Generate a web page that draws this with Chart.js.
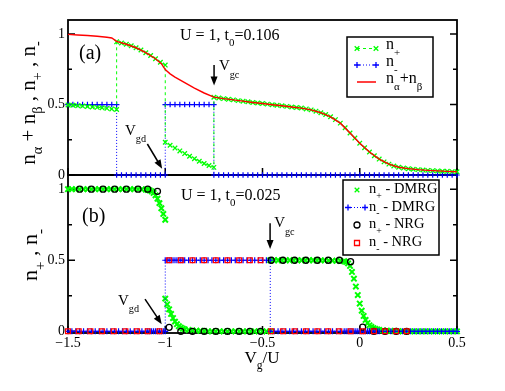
<!DOCTYPE html>
<html>
<head>
<meta charset="utf-8">
<title>Occupations vs gate voltage</title>
<script src="https://cdn.jsdelivr.net/npm/chart.js"></script>
<style>
  body { margin: 0; background: #fff; }
  #wrap { position: relative; width: 505px; height: 391px; }
  #wrap canvas { position: absolute; left: 0; top: 0; }
</style>
</head>
<body>
<div id="wrap">
  <canvas id="panelB" width="505" height="391"></canvas>
  <canvas id="panelA" width="505" height="391"></canvas>
</div>
<script>
// ---- panel (a): U = 1, t0 = 0.106 ----
// gate voltages (Vg/U); repeated values are the jumps
var aVg = [
  -1.5, -1.475, -1.45, -1.425, -1.4, -1.375, -1.35, -1.325, -1.3, -1.275, -1.25,
  -1.25, -1.225, -1.2, -1.175, -1.15, -1.125, -1.1, -1.075, -1.05, -1.025, -1.0,
  -1.0, -0.975, -0.95, -0.925, -0.9, -0.875, -0.85, -0.825, -0.8, -0.775, -0.75,
  -0.75, -0.725, -0.7, -0.675, -0.65, -0.625, -0.6, -0.575, -0.55, -0.525, -0.5,
  -0.475, -0.45, -0.425, -0.4, -0.375, -0.35, -0.325, -0.3, -0.275, -0.25,
  -0.225, -0.2, -0.175, -0.15, -0.125, -0.1, -0.075, -0.05, -0.025, 0,
  0.025, 0.05, 0.075, 0.1, 0.125, 0.15, 0.175, 0.2, 0.225, 0.25,
  0.275, 0.3, 0.325, 0.35, 0.375, 0.4, 0.425, 0.45, 0.475, 0.5
];
var aPlus = [
  0.497, 0.495, 0.492, 0.489, 0.486, 0.483, 0.48, 0.477, 0.473, 0.469, 0.465,
  0.945, 0.937, 0.928, 0.917, 0.903, 0.887, 0.868, 0.848, 0.825, 0.8, 0.78,
  0.232, 0.211, 0.191, 0.171, 0.152, 0.133, 0.115, 0.098, 0.082, 0.067, 0.054,
  0.552, 0.547, 0.542, 0.537, 0.533, 0.528, 0.524, 0.52, 0.515, 0.511, 0.507,
  0.503, 0.499, 0.495, 0.491, 0.487, 0.483, 0.479, 0.475, 0.469, 0.462,
  0.453, 0.442, 0.429, 0.413, 0.393, 0.368, 0.335, 0.298, 0.262, 0.226,
  0.193, 0.163, 0.137, 0.113, 0.093, 0.077, 0.064, 0.055, 0.049, 0.045,
  0.041, 0.038, 0.035, 0.033, 0.031, 0.029, 0.027, 0.026, 0.024, 0.023
];
var aMinus = [
  0.5, 0.5, 0.5, 0.5, 0.5, 0.5, 0.5, 0.5, 0.5, 0.5, 0.5,
  0, 0, 0, 0, 0, 0, 0, 0, 0, 0, 0,
  0.5, 0.5, 0.5, 0.5, 0.5, 0.5, 0.5, 0.5, 0.5, 0.5, 0.5,
  0, 0, 0, 0, 0, 0, 0, 0, 0, 0, 0,
  0, 0, 0, 0, 0, 0, 0, 0, 0, 0,
  0, 0, 0, 0, 0, 0, 0, 0, 0, 0,
  0, 0, 0, 0, 0, 0, 0, 0, 0, 0,
  0, 0, 0, 0, 0, 0, 0, 0, 0, 0
];
var aSumVg = [
  -1.5, -1.45, -1.4, -1.35, -1.3, -1.275, -1.25, -1.2, -1.15, -1.1, -1.05, -1.02,
  -1.0, -0.975, -0.95, -0.9, -0.85, -0.8, -0.75, -0.7, -0.65, -0.6, -0.55, -0.5,
  -0.45, -0.4, -0.35, -0.3, -0.25, -0.2, -0.15, -0.1, -0.05, 0, 0.05, 0.1,
  0.15, 0.2, 0.25, 0.3, 0.35, 0.4, 0.45, 0.5
];
var aSum = [
  0.998, 0.994, 0.99, 0.985, 0.978, 0.972, 0.948, 0.928, 0.903, 0.868, 0.825, 0.79,
  0.748, 0.718, 0.695, 0.655, 0.617, 0.582, 0.553, 0.542, 0.533, 0.524, 0.515, 0.507,
  0.499, 0.491, 0.483, 0.475, 0.462, 0.442, 0.413, 0.368, 0.298, 0.226, 0.163, 0.113,
  0.077, 0.055, 0.045, 0.038, 0.033, 0.029, 0.026, 0.023
];

// ---- panel (b): U = 1, t0 = 0.025 ----
var bVg = [
  -1.5, -1.48, -1.46, -1.44, -1.42, -1.4, -1.38, -1.36, -1.34, -1.32, -1.3,
  -1.28, -1.26, -1.24, -1.22, -1.2, -1.18, -1.16, -1.14, -1.12, -1.1,
  -1.09, -1.08, -1.07, -1.06, -1.05, -1.04, -1.03, -1.02, -1.01, -1.0,
  -1.0, -0.99, -0.98, -0.97, -0.96, -0.95, -0.94, -0.93, -0.92, -0.91, -0.9,
  -0.88, -0.86, -0.84, -0.82, -0.8,
  -0.78, -0.76, -0.74, -0.72, -0.7, -0.68, -0.66, -0.64, -0.62, -0.6, -0.58,
  -0.56, -0.54, -0.52, -0.5, -0.48, -0.46,
  -0.46, -0.44, -0.42, -0.4, -0.38, -0.36, -0.34, -0.32, -0.3, -0.28, -0.26,
  -0.24, -0.22, -0.2, -0.18, -0.16, -0.14, -0.12, -0.1, -0.08,
  -0.07, -0.06, -0.05, -0.04, -0.03, -0.02, -0.01, 0, 0.01, 0.02, 0.03,
  0.04, 0.05, 0.06, 0.07, 0.08, 0.09, 0.1,
  0.12, 0.14, 0.16, 0.18, 0.2, 0.22, 0.24, 0.26, 0.28, 0.3, 0.32,
  0.34, 0.36, 0.38, 0.4, 0.42, 0.44, 0.46, 0.48, 0.5
];
var bPlusDmrg = [
  1, 1, 1, 1, 1, 1, 1, 1, 1, 1, 1,
  1, 1, 1, 1, 1, 1, 1, 1, 0.999, 0.998,
  0.996, 0.992, 0.985, 0.974, 0.957, 0.933, 0.902, 0.866, 0.826, 0.785,
  0.23, 0.19, 0.155, 0.122, 0.093, 0.068, 0.05, 0.036, 0.026, 0.019, 0.014,
  0.009, 0.006, 0.004, 0.003, 0.002,
  0, 0, 0, 0, 0, 0, 0, 0, 0, 0, 0,
  0, 0, 0, 0, 0, 0,
  0.5, 0.5, 0.5, 0.5, 0.5, 0.5, 0.5, 0.5, 0.5, 0.5, 0.5,
  0.5, 0.5, 0.499, 0.499, 0.498, 0.497, 0.496, 0.495, 0.493,
  0.488, 0.478, 0.46, 0.418, 0.37, 0.315, 0.255, 0.195, 0.145, 0.108, 0.08,
  0.058, 0.042, 0.031, 0.023, 0.017, 0.013, 0.01,
  0.006, 0.004, 0.003, 0.002, 0.001, 0, 0, 0, 0, 0, 0,
  0, 0, 0, 0, 0, 0, 0, 0, 0
];
var bMinusDmrg = [
  0, 0, 0, 0, 0, 0, 0, 0, 0, 0, 0,
  0, 0, 0, 0, 0, 0, 0, 0, 0, 0,
  0, 0, 0, 0, 0, 0, 0, 0, 0, 0,
  0.5, 0.5, 0.5, 0.5, 0.5, 0.5, 0.5, 0.5, 0.5, 0.5, 0.5,
  0.5, 0.5, 0.5, 0.5, 0.5,
  0.5, 0.5, 0.5, 0.5, 0.5, 0.5, 0.5, 0.5, 0.5, 0.5, 0.5,
  0.5, 0.5, 0.5, 0.5, 0.5, 0.5,
  0, 0, 0, 0, 0, 0, 0, 0, 0, 0, 0,
  0, 0, 0, 0, 0, 0, 0, 0, 0,
  0, 0, 0, 0, 0, 0, 0, 0, 0, 0, 0,
  0, 0, 0, 0, 0, 0, 0,
  0, 0, 0, 0, 0, 0, 0, 0, 0, 0, 0,
  0, 0, 0, 0, 0, 0, 0, 0, 0
];
var nrgPlusVg = [
  -1.44, -1.38, -1.32, -1.26, -1.2, -1.14, -1.09, -1.04, -0.98, -0.92, -0.86,
  -0.8, -0.74, -0.68, -0.62, -0.565, -0.51, -0.455, -0.395, -0.335, -0.277,
  -0.218, -0.162, -0.105, -0.047, 0.015, 0.073, 0.13, 0.187, 0.241
];
var nrgPlus = [
  1, 1, 1, 1, 1, 1, 1, 0.985, 0.028, 0, 0,
  0, 0, 0, 0, 0, 0, 0.5, 0.5, 0.5, 0.5,
  0.5, 0.5, 0.5, 0.49, 0.03, 0, 0, 0, 0
];
var nrgMinusVg = [
  -1.5, -1.445, -1.385, -1.325, -1.265, -1.205, -1.145, -1.09, -1.03,
  -0.98, -0.92, -0.86, -0.8, -0.74, -0.68, -0.62, -0.565, -0.51,
  -0.455, -0.395, -0.335, -0.277, -0.218, -0.162, -0.105, -0.047, 0.015,
  0.073, 0.13, 0.187, 0.241
];
var nrgMinus = [
  0, 0, 0, 0, 0, 0, 0, 0, 0,
  0.5, 0.5, 0.5, 0.5, 0.5, 0.5, 0.5, 0.5, 0.5,
  0, 0, 0, 0, 0, 0, 0, 0, 0,
  0, 0, 0, 0
];

var xTicks = [-1.5, -1, -0.5, 0, 0.5];
var yTicks = [0, 0.5, 1];
var yMinorTicks = [0.25, 0.75];

var FONT = 'Liberation Serif';
var GREEN = '#00ff00', BLUE = '#0000ff', RED = '#ff0000';

function pairs(xs, ys) {
  return xs.map(function (x, i) { return { x: x, y: ys[i] }; });
}

function fmt(v) {
  return v < 0 ? '\u2212' + Math.abs(v) : String(v);
}

// text with subscripts: parts starting with '_' are lowered and smaller
function rich(ctx, parts, x, y, size, align, drop) {
  var sub = size * 0.68;
  drop = drop || 0.35;
  var w = 0;
  parts.forEach(function (p) {
    var s = p[0] === '_';
    ctx.font = (s ? sub : size) + 'px "' + FONT + '"';
    w += ctx.measureText(s ? p.slice(1) : p).width;
  });
  var cx = align === 'center' ? x - w / 2 : x;
  ctx.textAlign = 'left';
  ctx.textBaseline = 'alphabetic';
  ctx.fillStyle = '#000';
  parts.forEach(function (p) {
    var s = p[0] === '_';
    var t = s ? p.slice(1) : p;
    ctx.font = (s ? sub : size) + 'px "' + FONT + '"';
    ctx.fillText(t, cx, y + (s ? size * drop : 0));
    cx += ctx.measureText(t).width;
  });
}

function vtitle(ctx, parts, x, y, size) {
  ctx.save();
  ctx.translate(x, y);
  ctx.rotate(-Math.PI / 2);
  rich(ctx, parts, 0, 0, size, 'center');
  ctx.restore();
}

function arrow(ctx, x1, y1, x2, y2) {
  var a = Math.atan2(y2 - y1, x2 - x1), h = 9, w = 3.5;
  ctx.save();
  ctx.strokeStyle = '#000';
  ctx.fillStyle = '#000';
  ctx.lineWidth = 1.5;
  ctx.beginPath();
  ctx.moveTo(x1, y1);
  ctx.lineTo(x2 - h * 0.7 * Math.cos(a), y2 - h * 0.7 * Math.sin(a));
  ctx.stroke();
  ctx.beginPath();
  ctx.moveTo(x2, y2);
  ctx.lineTo(x2 - h * Math.cos(a) + w * Math.sin(a), y2 - h * Math.sin(a) - w * Math.cos(a));
  ctx.lineTo(x2 - h * Math.cos(a) - w * Math.sin(a), y2 - h * Math.sin(a) + w * Math.cos(a));
  ctx.closePath();
  ctx.fill();
  ctx.restore();
}

function mark(ctx, style, x, y, color) {
  ctx.save();
  ctx.strokeStyle = color;
  ctx.lineWidth = 1.3;
  ctx.beginPath();
  if (style === 'x') {
    ctx.moveTo(x - 2.3, y - 2.3); ctx.lineTo(x + 2.3, y + 2.3);
    ctx.moveTo(x - 2.3, y + 2.3); ctx.lineTo(x + 2.3, y - 2.3);
  } else if (style === '+') {
    ctx.moveTo(x - 3, y); ctx.lineTo(x + 3, y);
    ctx.moveTo(x, y - 3); ctx.lineTo(x, y + 3);
  } else if (style === 'o') {
    ctx.arc(x, y, 3, 0, Math.PI * 2);
  } else {
    ctx.rect(x - 2.5, y - 2.5, 5, 5);
  }
  ctx.stroke();
  ctx.restore();
}

function sample(ctx, x1, x2, y, color, dash) {
  ctx.save();
  ctx.strokeStyle = color;
  ctx.lineWidth = dash ? 1 : 1.5;
  ctx.setLineDash(dash || []);
  ctx.beginPath();
  ctx.moveTo(x1, y); ctx.lineTo(x2, y);
  ctx.stroke();
  ctx.restore();
}

// box, inward ticks
function frame(chart) {
  var ctx = chart.ctx, ca = chart.chartArea;
  var xs = chart.scales.x, ys = chart.scales.y;
  ctx.save();
  ctx.strokeStyle = '#000';
  ctx.lineWidth = 1.8;
  ctx.strokeRect(ca.left, ca.top, ca.right - ca.left, ca.bottom - ca.top);
  ctx.lineWidth = 1.5;
  ctx.beginPath();
  yTicks.concat(yMinorTicks).forEach(function (v) {
    var len = yTicks.indexOf(v) >= 0 ? 7 : 4;
    var p = ys.getPixelForValue(v);
    ctx.moveTo(ca.left, p); ctx.lineTo(ca.left + len, p);
    ctx.moveTo(ca.right, p); ctx.lineTo(ca.right - len, p);
  });
  xTicks.forEach(function (v) {
    var p = xs.getPixelForValue(v);
    ctx.moveTo(p, ca.bottom); ctx.lineTo(p, ca.bottom - 7);
  });
  ctx.stroke();
  ctx.restore();
}

function px(chart, x, y) {
  return [chart.scales.x.getPixelForValue(x), chart.scales.y.getPixelForValue(y)];
}

var decorA = {
  id: 'decorA',
  beforeDatasetsDraw: function (chart) { frame(chart); },
  afterDraw: function (chart) {
    var ctx = chart.ctx, p, q;
    vtitle(ctx, ['n', '_\u03b1', ' + n', '_\u03b2', ' , n', '_+', ' , n', '_-'], 35, 103, 21);
    p = px(chart, -1.443, 0.823); rich(ctx, ['(a)'], p[0], p[1], 20);
    p = px(chart, -0.924, 0.958); rich(ctx, ['U = 1, t', '_0', '=0.106'], p[0], p[1], 16);
    p = px(chart, -0.724, 0.745); rich(ctx, ['V', '_gc'], p[0], p[1], 15, 'left', 0.55);
    p = px(chart, -0.749, 0.78); q = px(chart, -0.749, 0.635); arrow(ctx, p[0], p[1], q[0], q[1]);
    p = px(chart, -1.207, 0.284); rich(ctx, ['V', '_gd'], p[0], p[1], 15, 'left', 0.45);
    p = px(chart, -1.092, 0.22); q = px(chart, -1.016, 0.045); arrow(ctx, p[0], p[1], q[0], q[1]);

    // legend
    ctx.save();
    ctx.fillStyle = '#fff';
    ctx.fillRect(347, 37, 86, 60);
    ctx.strokeStyle = '#000';
    ctx.lineWidth = 1.5;
    ctx.strokeRect(347, 37, 86, 60);
    ctx.restore();
    sample(ctx, 357, 376, 48.5, GREEN, [3, 3]);
    mark(ctx, 'x', 357, 48.5, GREEN); mark(ctx, 'x', 376, 48.5, GREEN);
    rich(ctx, ['n', '_+'], 386, 49, 16, 'left', 0.45);
    sample(ctx, 357, 376, 65, BLUE, [1, 2]);
    mark(ctx, '+', 357, 65, BLUE); mark(ctx, '+', 376, 65, BLUE);
    rich(ctx, ['n', '_-'], 386, 66, 16, 'left', 0.45);
    sample(ctx, 357, 376, 82, RED);
    rich(ctx, ['n', '_\u03b1', '+n', '_\u03b2'], 386, 83, 16, 'left', 0.45);
  }
};

var decorB = {
  id: 'decorB',
  beforeDatasetsDraw: function (chart) { frame(chart); },
  afterDraw: function (chart) {
    var ctx = chart.ctx, p, q;
    vtitle(ctx, ['n', '_+', ' , n', '_-'], 37, 255, 22);
    rich(ctx, ['V', '_g', '/U'], 262, 363, 17, 'center');
    p = px(chart, -1.428, 0.769); rich(ctx, ['(b)'], p[0], p[1], 20);
    p = px(chart, -0.919, 0.924); rich(ctx, ['U = 1, t', '_0', '=0.025'], p[0], p[1], 16);
    p = px(chart, -0.44, 0.734); rich(ctx, ['V', '_gc'], p[0], p[1], 15, 'left', 0.55);
    p = px(chart, -0.461, 0.76); q = px(chart, -0.461, 0.58); arrow(ctx, p[0], p[1], q[0], q[1]);
    p = px(chart, -1.243, 0.185); rich(ctx, ['V', '_gd'], p[0], p[1], 15, 'left', 0.45);
    p = px(chart, -1.104, 0.227); q = px(chart, -1.018, 0.05); arrow(ctx, p[0], p[1], q[0], q[1]);

    // legend
    ctx.save();
    ctx.fillStyle = '#fff';
    ctx.fillRect(343, 180, 96, 75);
    ctx.strokeStyle = '#000';
    ctx.lineWidth = 1.5;
    ctx.strokeRect(343, 180, 96, 75);
    ctx.restore();
    mark(ctx, 'x', 357, 190, GREEN);
    rich(ctx, ['n', '_+', ' - DMRG'], 369, 193, 14.5, 'left', 0.4);
    sample(ctx, 348, 365, 207.5, BLUE, [1, 2]);
    mark(ctx, '+', 348, 207.5, BLUE); mark(ctx, '+', 365, 207.5, BLUE);
    rich(ctx, ['n', '_-', ' - DMRG'], 369, 210.5, 14.5, 'left', 0.4);
    mark(ctx, 'o', 357, 225, '#000');
    rich(ctx, ['n', '_+', ' - NRG'], 369, 228, 14.5, 'left', 0.4);
    mark(ctx, 's', 357, 243, RED);
    rich(ctx, ['n', '_-', ' - NRG'], 369, 246, 14.5, 'left', 0.4);
  }
};

function scales(yMin, showX) {
  return {
    x: {
      type: 'linear', min: -1.5, max: 0.5, display: showX,
      grid: { display: false, drawTicks: false }, border: { display: false },
      afterBuildTicks: function (s) { s.ticks = xTicks.map(function (v) { return { value: v }; }); },
      afterFit: function (s) { s.height = showX ? 58 : 0; },
      ticks: { padding: 2, color: '#000', maxRotation: 0, autoSkip: false,
               font: { family: FONT, size: 14 }, callback: fmt }
    },
    y: {
      type: 'linear', min: yMin, max: 1.1,
      grid: { display: false, drawTicks: false }, border: { display: false },
      afterBuildTicks: function (s) { s.ticks = yTicks.map(function (v) { return { value: v }; }); },
      afterFit: function (s) { s.width = 68; },
      ticks: { padding: 3, color: '#000', font: { family: FONT, size: 14 }, callback: fmt }
    }
  };
}

function common(pad, yMin, showX) {
  return {
    responsive: false,
    devicePixelRatio: 1,
    animation: false,
    events: [],
    layout: { padding: pad },
    scales: scales(yMin, showX),
    plugins: { legend: { display: false }, tooltip: { enabled: false } }
  };
}

new Chart(document.getElementById('panelB'), {
  type: 'scatter',
  data: {
    datasets: [
      { label: 'n- NRG', data: pairs(nrgMinusVg, nrgMinus), order: 1, clip: false,
        pointStyle: 'rect', pointRadius: 3.4, pointBorderWidth: 1.3,
        pointBorderColor: RED, pointBackgroundColor: 'rgba(255,255,255,0)' },
      { label: 'n+ NRG', data: pairs(nrgPlusVg, nrgPlus), order: 2, clip: false,
        pointStyle: 'circle', pointRadius: 3, pointBorderWidth: 1.3,
        pointBorderColor: '#000', pointBackgroundColor: 'rgba(255,255,255,0)' },
      { label: 'n- DMRG', data: pairs(bVg, bMinusDmrg), order: 3, clip: false,
        showLine: true, borderColor: BLUE, borderWidth: 1, borderDash: [1, 2],
        pointStyle: 'cross', pointRadius: 3, pointBorderWidth: 1.2, pointBorderColor: BLUE },
      { label: 'n+ DMRG', data: pairs(bVg, bPlusDmrg), order: 4, clip: false,
        pointStyle: 'crossRot', pointRadius: 3.8, pointBorderWidth: 2, pointBorderColor: GREEN }
    ]
  },
  options: common({ left: 0, right: 48, top: 175, bottom: 0 }, -0.012, true),
  plugins: [decorB]
});

new Chart(document.getElementById('panelA'), {
  type: 'scatter',
  data: {
    datasets: [
      { label: 'na+nb', data: pairs(aSumVg, aSum), order: 1, clip: false,
        showLine: true, borderColor: RED, borderWidth: 1.4, pointRadius: 0 },
      { label: 'n+', data: pairs(aVg, aPlus), order: 2, clip: false,
        showLine: true, borderColor: GREEN, borderWidth: 1, borderDash: [3, 3],
        pointStyle: 'crossRot', pointRadius: 3.2, pointBorderWidth: 1.3, pointBorderColor: GREEN },
      { label: 'n-', data: pairs(aVg, aMinus), order: 3, clip: false,
        showLine: true, borderColor: BLUE, borderWidth: 1, borderDash: [1, 2],
        pointStyle: 'cross', pointRadius: 2.8, pointBorderWidth: 1.2, pointBorderColor: BLUE }
    ]
  },
  options: common({ left: 0, right: 48, top: 20, bottom: 216 }, 0, false),
  plugins: [decorA]
});
</script>
</body>
</html>
